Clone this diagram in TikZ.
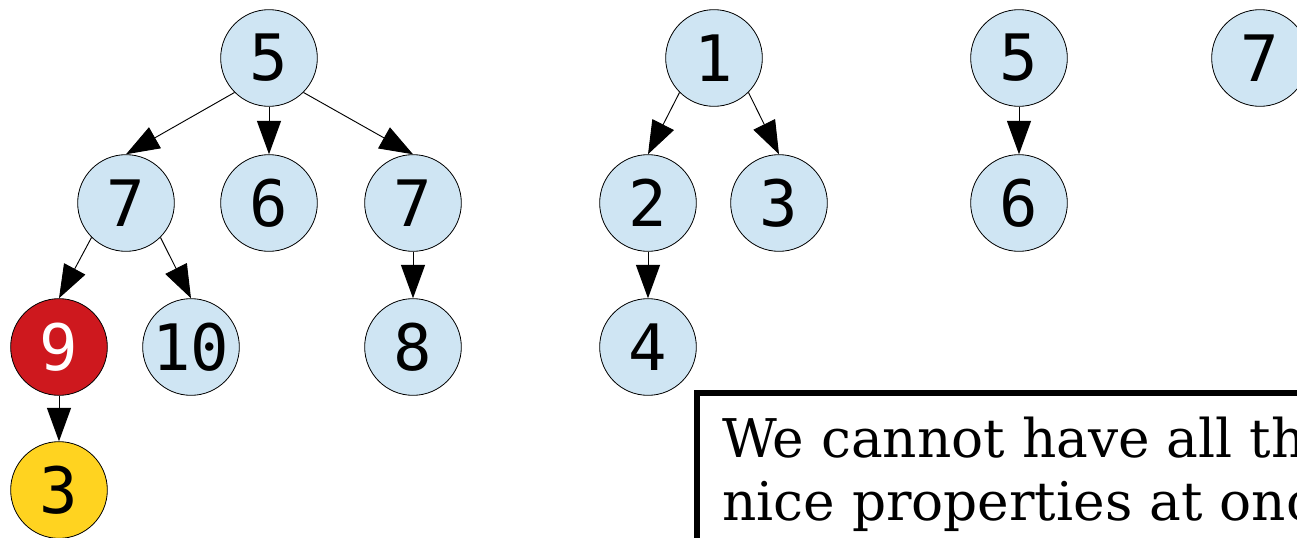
\documentclass[tikz,border=0pt]{standalone}
\usepackage{fontspec}
\setmainfont{DejaVu Serif}
\newfontfamily\keyfont{DejaVu Sans Mono}
\usetikzlibrary{arrows.meta}

\definecolor{heapblue}{HTML}{CFE5F3}
\definecolor{heapred}{HTML}{CE181E}
\definecolor{heapyellow}{HTML}{FFD320}

\tikzset{
	key/.style={circle, draw=black, line width=0.6pt, fill=heapblue,
		minimum size=72.5pt, inner sep=0pt,
		font=\keyfont\fontsize{48}{48}\selectfont},
	link/.style={-{Triangle[length=25pt,width=18pt]}, line width=0.7pt}
}

\begin{document}
\begin{tikzpicture}[x=0.75pt,y=-0.75pt]
		\useasboundingbox (0,0) rectangle (1297,538);
		\clip (0,0) rectangle (1297,538);

		% Primer arbre
		\node[key] (a) at (269,58) {5};
		\node[key] (b) at (126,203) {7};
		\node[key] (c) at (269,203) {6};
		\node[key] (d) at (413,203) {7};
		\node[key, fill=heapred, text=white] (e) at (59,347) {9};
		\node[key] (f) at (191,347) {10};
		\node[key] (g) at (413,347) {8};
		\node[key, fill=heapyellow] (h) at (59,490) {3};
		\foreach \u/\v in {a.south west/b,a.south east/d,b.south west/e,b.south east/f} {
			\draw[link] (\u) -- (\v.north);
		}
		\foreach \u/\v in {a/c,d/g,e/h} {
			\draw[link] (\u) -- (\v);
		}

		% Segon arbre
		\node[key] (p) at (714,58) {1};
		\node[key] (q) at (648,203) {2};
		\node[key] (r) at (779,203) {3};
		\node[key] (s) at (648,347) {4};
		\draw[link] (p.south west) -- (q.north);
		\draw[link] (p.south east) -- (r.north);
		\draw[link] (q) -- (s);

		% Tercer i quart arbre
		\node[key] (t) at (1019,58) {5};
		\node[key] (u) at (1019,203) {6};
		\draw[link] (t) -- (u);
		\node[key] (w) at (1260,58) {7};

		% Nota
		\draw[line width=3.8pt] (697,600) -- (697,393) -- (1400,393);
		\node[anchor=base west, inner sep=0pt, font=\fontsize{40}{46}\selectfont]
			(note1) at (722,458) {We cannot have all the};
		\node[anchor=base west, inner sep=0pt, font=\fontsize{40}{46}\selectfont]
			(note2) at (722,520) {nice properties at once};
	\end{tikzpicture}
\end{document}
